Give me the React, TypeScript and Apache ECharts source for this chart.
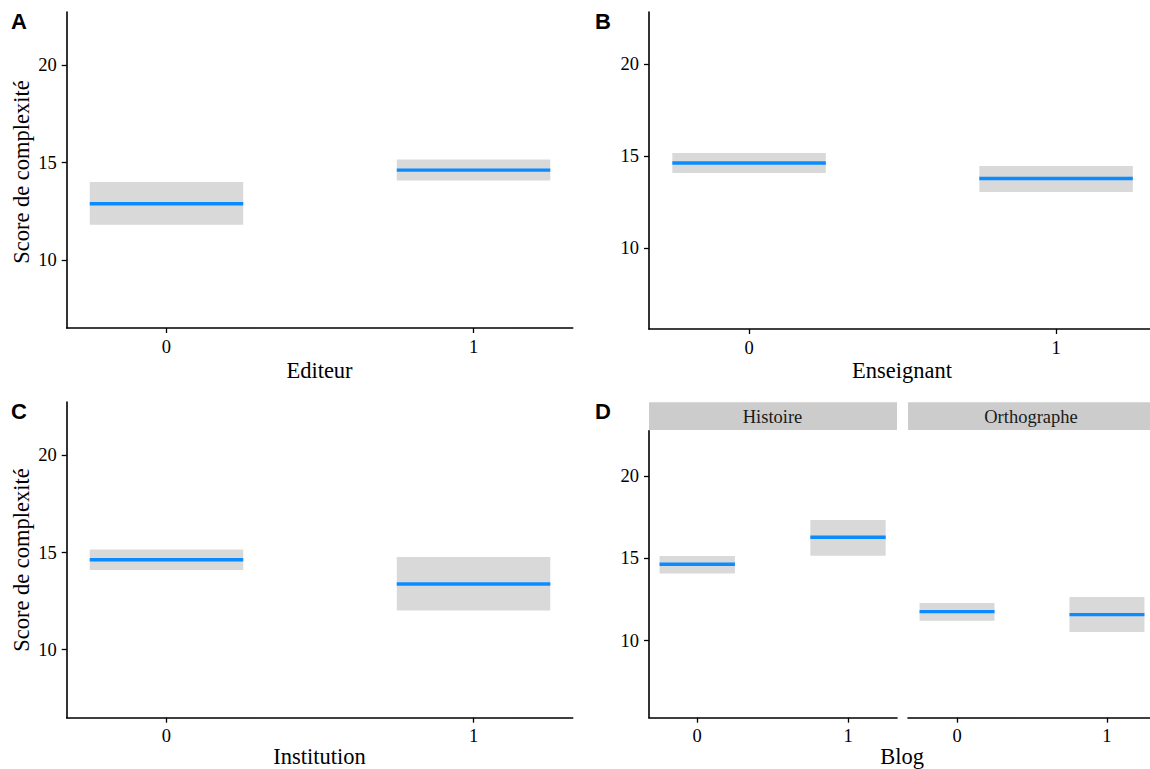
import React, { useEffect, useRef } from "react";
import * as echarts from "echarts";

// ---- data ----
const xCategories = [0, 1];
const yTicks = [10, 15, 20];

// Panel A : Editeur
const editeurMean = [12.89, 14.62];
const editeurLow = [11.81, 14.09];
const editeurHigh = [14.01, 15.17];

// Panel B : Enseignant
const enseignantMean = [14.63, 13.79];
const enseignantLow = [14.09, 13.06];
const enseignantHigh = [15.18, 14.47];

// Panel C : Institution
const institutionMean = [14.63, 13.38];
const institutionLow = [14.1, 12.02];
const institutionHigh = [15.16, 14.77];

// Panel D : Blog x Matière
const facets = ["Histoire", "Orthographe"];
const blogHistoireMean = [14.64, 16.28];
const blogHistoireLow = [14.07, 15.16];
const blogHistoireHigh = [15.14, 17.33];
const blogOrthoMean = [11.76, 11.58];
const blogOrthoLow = [11.21, 10.53];
const blogOrthoHigh = [12.29, 12.65];

const SERIF = '"Liberation Serif", "Times New Roman", serif';
const SANS = '"Liberation Sans", Arial, sans-serif';
const BLUE = "#0a8cff";
const BAND = "#d9d9d9";

function build(mean: number[], low: number[], high: number[]) {
  return xCategories.map((x, i) => [x, low[i], mean[i], high[i]]);
}

const renderItem = (params: any, api: any) => {
  const x = api.value(0);
  const lo = api.value(1);
  const m = api.value(2);
  const hi = api.value(3);
  const half = 0.25;
  const p1 = api.coord([x - half, hi]);
  const p2 = api.coord([x + half, lo]);
  const l1 = api.coord([x - half, m]);
  const l2 = api.coord([x + half, m]);
  return {
    type: "group",
    children: [
      {
        type: "rect",
        shape: { x: p1[0], y: p1[1], width: p2[0] - p1[0], height: p2[1] - p1[1] },
        style: { fill: BAND },
      },
      {
        type: "line",
        shape: { x1: l1[0], y1: l1[1], x2: l2[0], y2: l2[1] },
        style: { stroke: BLUE, lineWidth: 3.4 },
      },
    ],
  };
};

export default function App() {
  const ref = useRef<HTMLDivElement>(null);
  useEffect(() => {
    if (!ref.current) return;
    const chart = echarts.init(ref.current, null, { renderer: "svg" });

    const grids = [
      { left: 66.7, top: 12, width: 506, height: 316 }, // A
      { left: 649, top: 12, width: 501, height: 317 }, // B
      { left: 66.7, top: 402, width: 506, height: 315.7 }, // C
      { left: 649, top: 430.7, width: 248, height: 287 }, // D Histoire
      { left: 908, top: 430.7, width: 242, height: 287 }, // D Orthographe
    ];
    const xRanges = [
      [-0.325, 1.323],
      [-0.326, 1.306],
      [-0.325, 1.323],
      [-0.32, 1.325],
      [-0.327, 1.287],
    ];
    const yRanges = [
      [6.5, 22.75],
      [5.61, 22.84],
      [6.5, 22.75],
      [5.32, 22.75],
      [5.32, 22.75],
    ];

    const axisLine = { show: true, onZero: false, lineStyle: { color: "#000", width: 1.6 } };
    const tickStyle = { lineStyle: { color: "#000", width: 1.3 } };

    const xAxes = grids.map((_, i) => ({
      type: "value",
      gridIndex: i,
      min: xRanges[i][0],
      max: xRanges[i][1],
      axisLine,
      splitLine: { show: false },
      axisTick: { show: true, length: 5, customValues: xCategories, ...tickStyle },
      axisLabel: {
        show: true,
        customValues: xCategories,
        margin: 9,
        fontFamily: SERIF,
        fontSize: 18.5,
        color: "#000",
        formatter: (v: number) => String(v),
      },
    }));

    const yAxes = grids.map((_, i) => ({
      type: "value",
      gridIndex: i,
      min: yRanges[i][0],
      max: yRanges[i][1],
      show: i !== 4,
      axisLine,
      splitLine: { show: false },
      axisTick: { show: true, length: 5, customValues: yTicks, ...tickStyle },
      axisLabel: {
        show: true,
        customValues: yTicks,
        margin: 10,
        fontFamily: SERIF,
        fontSize: 18.5,
        color: "#000",
        formatter: (v: number) => String(v),
      },
    }));

    const datasets = [
      build(editeurMean, editeurLow, editeurHigh),
      build(enseignantMean, enseignantLow, enseignantHigh),
      build(institutionMean, institutionLow, institutionHigh),
      build(blogHistoireMean, blogHistoireLow, blogHistoireHigh),
      build(blogOrthoMean, blogOrthoLow, blogOrthoHigh),
    ];

    const series = datasets.map((d, i) => ({
      type: "custom",
      xAxisIndex: i,
      yAxisIndex: i,
      renderItem,
      data: d,
      encode: { x: 0, y: [1, 2, 3] },
    }));

    const titleStyle = (text: string, x: number, y: number) => ({
      type: "text",
      x,
      y,
      style: {
        text,
        fontFamily: SERIF,
        fontSize: 22.5,
        fill: "#000",
        textAlign: "center",
        textVerticalAlign: "bottom",
      },
    });

    const yTitle = (y: number) => ({
      type: "text",
      x: 21,
      y,
      rotation: Math.PI / 2,
      style: {
        text: "Score de complexité",
        fontFamily: SERIF,
        fontSize: 22.5,
        fill: "#000",
        textAlign: "center",
        textVerticalAlign: "middle",
      },
    });

    const letter = (text: string, x: number, y: number) => ({
      type: "text",
      x,
      y,
      style: {
        text,
        fontFamily: SANS,
        fontWeight: "bold",
        fontSize: 22,
        fill: "#000",
        textAlign: "left",
        textVerticalAlign: "bottom",
      },
    });

    const strip = (label: string, x: number, w: number, cx: number) => [
      {
        type: "rect",
        shape: { x, y: 402.3, width: w, height: 27.7 },
        style: { fill: "#cccccc" },
      },
      {
        type: "text",
        x: cx,
        y: 416.5,
        style: {
          text: label,
          fontFamily: SERIF,
          fontSize: 18.5,
          fill: "#1a1a1a",
          textAlign: "center",
          textVerticalAlign: "middle",
        },
      },
    ];

    chart.setOption({
      animation: false,
      backgroundColor: "#fff",
      grid: grids.map((g) => ({ ...g, containLabel: false })),
      xAxis: xAxes,
      yAxis: yAxes,
      series,
      graphic: [
        letter("A", 11, 32),
        letter("B", 595, 32),
        letter("C", 11, 422),
        letter("D", 595, 422),
        yTitle(172),
        yTitle(560),
        titleStyle("Editeur", 319.5, 382),
        titleStyle("Enseignant", 902, 382),
        titleStyle("Institution", 319.5, 768),
        titleStyle("Blog", 902, 768),
        ...strip(facets[0], 649, 248, 772.5),
        ...strip(facets[1], 908, 242, 1031),
      ],
    });
    return () => chart.dispose();
  }, []);
  return (
    <div
      ref={ref}
      style={{ position: "absolute", left: 0, top: 0, width: 1150, height: 769 }}
    />
  );
}
